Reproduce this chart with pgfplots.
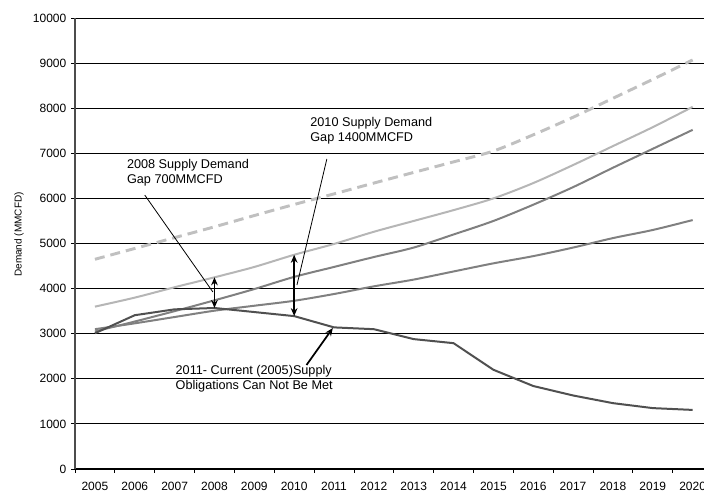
\documentclass[border=0pt]{standalone}
\usepackage{fontspec}
\setmainfont{Liberation Sans}
\usepackage{pgfplots}
\pgfplotsset{compat=1.18}
\usetikzlibrary{arrows.meta}

\definecolor{dashgray}{RGB}{192,192,192}
\definecolor{lightgray}{RGB}{182,182,182}
\definecolor{midgray}{RGB}{128,128,128}
\definecolor{darkgray}{RGB}{80,80,80}

\begin{document}
\begin{tikzpicture}
\begin{axis}[
    name=ax,
    scale only axis,
    width=478.2pt, height=338.25pt,
    xmin=2004.5, xmax=2020.5,
    ymin=0, ymax=10000,
    axis lines=left,
    axis line style={-, line width=0.8pt},
    x axis line style={black},
    y axis line style={black!70},
    xtick={2005,...,2020},
    minor xtick={2004.5,2005.5,...,2020.5},
    major x tick style={draw=none},
    minor tick length=3pt,
    ytick={0,1000,...,10000},
    scaled y ticks=false,
    major tick length=3pt,
    tick align=outside,
    tick style={black, line width=0.6pt},
    xticklabel style={/pgf/number format/1000 sep={}, yshift=-3pt},
    yticklabel style={/pgf/number format/1000 sep={}},
    /pgf/number format/assume math mode=true,
    tick label style={font=\fontsize{9}{10.8}\selectfont},
    ymajorgrids,
    grid style={black, line width=0.6pt},
    ylabel={Demand (MMCFD)},
    ylabel style={font=\fontsize{7.5}{9}\selectfont, at={(-56.25pt+14.25pt,0.52)}, anchor=center},
    clip=false,
]
% projected demand, high case
\addplot[dashgray, line width=2.2pt, dash pattern=on 7.5pt off 4.5pt, smooth] coordinates {
    (2005,4650) (2006,4890) (2007,5130) (2008,5370) (2009,5620) (2010,5865)
    (2011,6100) (2012,6340) (2013,6576) (2014,6810) (2015,7050) (2016,7410)
    (2017,7800) (2018,8220) (2019,8640) (2020,9070)
};
% demand
\addplot[lightgray, line width=1.5pt, smooth] coordinates {
    (2005,3600) (2006,3800) (2007,4030) (2008,4250) (2009,4480) (2010,4750)
    (2011,4990) (2012,5260) (2013,5500) (2014,5740) (2015,6000) (2016,6340)
    (2017,6740) (2018,7160) (2019,7580) (2020,8030)
};
\addplot[midgray, line width=1.5pt, smooth] coordinates {
    (2005,3050) (2006,3270) (2007,3500) (2008,3740) (2009,3990) (2010,4260)
    (2011,4480) (2012,4700) (2013,4910) (2014,5200) (2015,5500) (2016,5860)
    (2017,6250) (2018,6680) (2019,7100) (2020,7520)
};
\addplot[midgray, line width=1.5pt, smooth] coordinates {
    (2005,3100) (2006,3230) (2007,3370) (2008,3510) (2009,3620) (2010,3730)
    (2011,3880) (2012,4050) (2013,4200) (2014,4380) (2015,4560) (2016,4720)
    (2017,4910) (2018,5120) (2019,5300) (2020,5520)
};
% supply
\addplot[darkgray, line width=1.5pt] coordinates {
    (2005,3010) (2006,3410) (2007,3540) (2008,3570) (2009,3480) (2010,3390)
    (2011,3140) (2012,3100) (2013,2880) (2014,2790) (2015,2200) (2016,1840)
    (2017,1630) (2018,1460) (2019,1350) (2020,1310)
};

% annotations
\node[anchor=north west, align=left, font=\fontsize{9.5}{11.25}\selectfont, inner sep=0pt]
    at (axis cs:2005.8,6870) {2008 Supply Demand\\Gap 700MMCFD};
\draw[black, line width=0.6pt] (axis cs:2006.25,6075) -- (axis cs:2007.96,3925);
\draw[{Stealth[length=6pt,width=5pt]}-{Stealth[length=6pt,width=5pt]}, line width=1.3pt]
    (axis cs:2008,4250) -- (axis cs:2008,3570);

\node[anchor=north west, align=left, font=\fontsize{9.5}{11.25}\selectfont, inner sep=0pt]
    at (axis cs:2010.4,7800) {2010 Supply Demand\\Gap 1400MMCFD};
\draw[black, line width=0.6pt] (axis cs:2010.82,6874) -- (axis cs:2010.07,4080);
\draw[{Stealth[length=6pt,width=5pt]}-{Stealth[length=6pt,width=5pt]}, line width=1.3pt]
    (axis cs:2010,4750) -- (axis cs:2010,3390);

\node[anchor=north west, align=left, font=\fontsize{9.5}{11.25}\selectfont, inner sep=0pt]
    at (axis cs:2007.02,2300) {2011- Current (2005)Supply\\Obligations Can Not Be Met};
\draw[-{Stealth[length=6pt,width=5pt]}, line width=1.3pt]
    (axis cs:2010.31,2306) -- (axis cs:2010.97,3126);
\end{axis}
\pgfresetboundingbox
\useasboundingbox ([xshift=-56.25pt,yshift=-18pt]ax.south west) rectangle ([xshift=471.75pt,yshift=351.75pt]ax.south west);
\end{tikzpicture}
\end{document}
